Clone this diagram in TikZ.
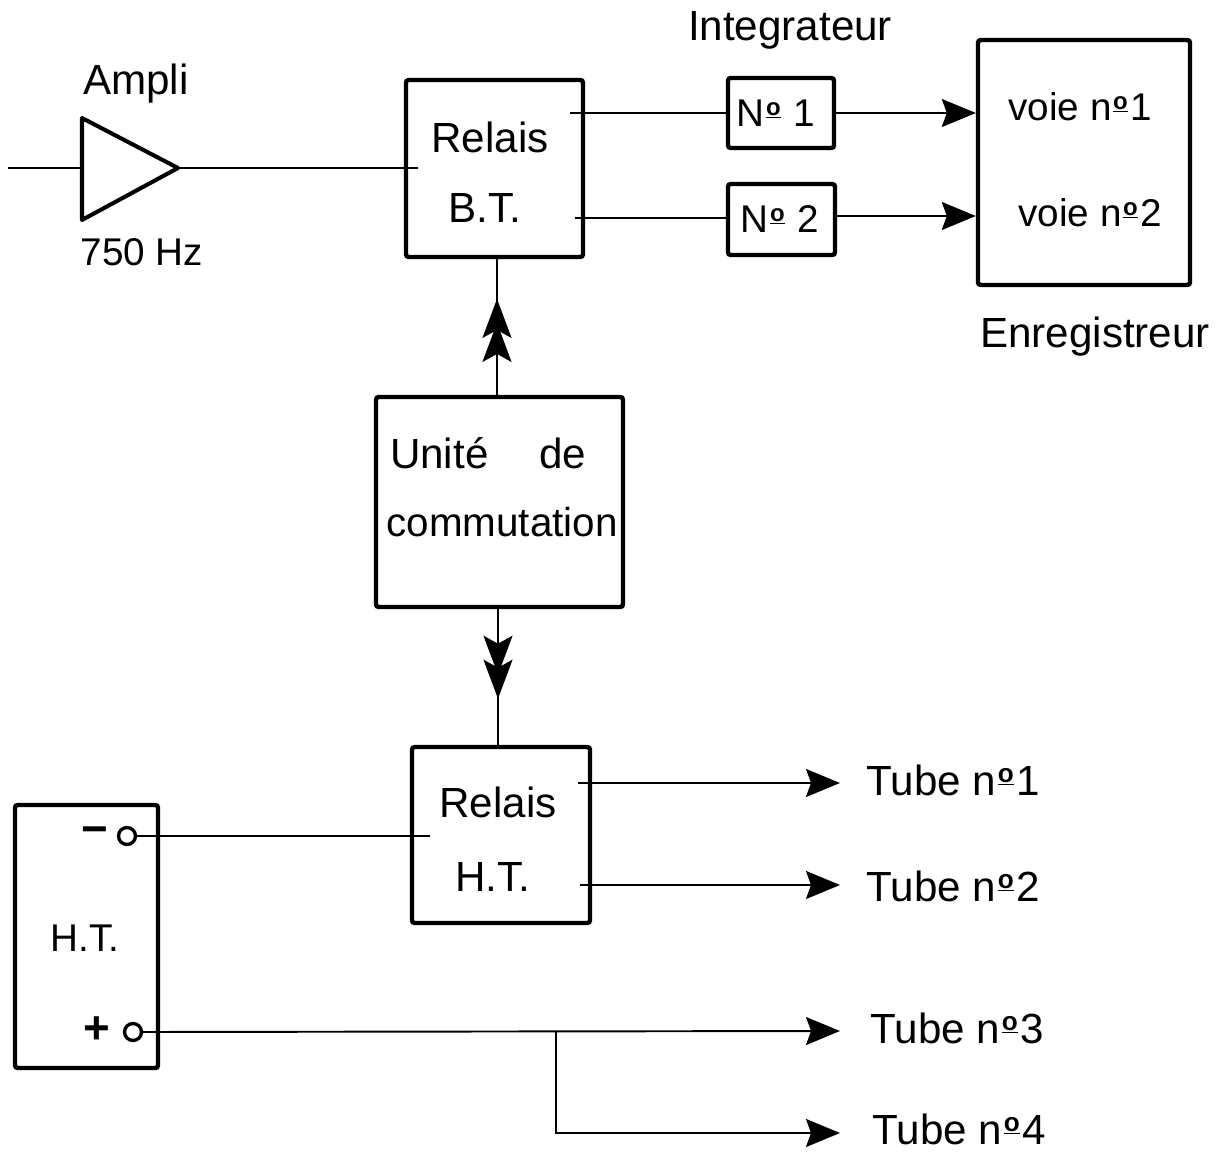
\documentclass[tikz,border=0pt]{standalone}
\usepackage{fontspec}
\usepackage{graphicx}
\setmainfont{Liberation Sans}
\usetikzlibrary{arrows.meta,decorations.markings,calc}
\newcommand\nro{\kern0.04em\raisebox{0.55ex}{\scalebox{0.62}{\underline{\textbf{o}}}}\kern0.06em}
\begin{document}
\begin{tikzpicture}[x=0.02cm,y=-0.02cm,
  box/.style={draw, line width=2.5pt, rounded corners=1.5pt, inner sep=0pt},
  wire/.style={line width=1.1pt},
  lbl/.style={inner sep=0pt, font=\fontsize{24}{28}\selectfont},
  slbl/.style={inner sep=0pt, font=\fontsize{22}{26}\selectfont},
  hd/.style={-{Stealth[length=0.68cm,width=0.56cm,inset=0.1cm]}},
  term/.style={circle, draw, line width=1.9pt, minimum size=0.34cm, inner sep=0pt},
  dbl/.style={postaction={decorate}, decoration={markings,
     mark=at position #1 with {\arrow{Stealth[length=0.78cm,width=0.58cm,inset=0.16cm,sep=-0.3cm]Stealth[length=0.78cm,width=0.58cm,inset=0.16cm]}}}},
]
\useasboundingbox (0,0) rectangle (1218,1152);
\fill[white] (0,0) rectangle (1218,1152);

% Ampli
\coordinate (in) at (8,168);
\coordinate (ampin) at (82,168);
\coordinate (ampout) at (178,168);
\draw[line width=2.3pt, line join=round] (82,118) -- (ampout) -- (82,220) -- cycle;
\node[lbl] (amplbl) at (136,84) {Ampli};
\node[slbl] (hzlbl) at (142,252) {750 Hz};

% boxes
\node[box, minimum width=3.54cm, minimum height=3.54cm] (rbt) at (494.5,168.5) {};
\node[box, minimum width=2.12cm, minimum height=1.4cm] (n1) at (781,113) {};
\node[box, minimum width=2.14cm, minimum height=1.42cm] (n2) at (781.5,219.5) {};
\node[box, minimum width=4.24cm, minimum height=4.9cm] (enr) at (1084,162.5) {};
\node[box, minimum width=4.94cm, minimum height=4.2cm] (uni) at (499.5,502) {};
\node[box, minimum width=3.56cm, minimum height=3.52cm] (rht) at (501,835) {};
\node[box, minimum width=2.86cm, minimum height=5.26cm] (ht) at (86.5,936.5) {};

% texts
\node[lbl] (t1) at (490,137) {Relais};
\node[lbl] (t2) at (485,208) {B.T.};
\node[slbl] (t3) at (776,113) {N\nro\ 1};
\node[slbl] (t4) at (780,219.5) {N\nro\ 2};
\node[slbl] (t5) at (1080,107) {voie n\nro 1};
\node[slbl] (t6) at (1090,213) {voie n\nro 2};
\node[lbl] (t7) at (790,30) {Integrateur};
\node[lbl] (t8) at (1095,337) {Enregistreur};
\node[lbl] (t9) at (488,453) {Unité\hspace{1.2em}de};
\node[font=\fontsize{23}{26}\selectfont, inner sep=0pt] (t10) at (502,522) {commutation};
\node[lbl] (t11) at (498,802) {Relais};
\node[lbl] (t12) at (493,877) {H.T.};
\node[slbl] (t13) at (85,938) {H.T.};
\node[lbl, font=\fontsize{26}{28}\selectfont\bfseries] (minus) at (95,836) {−};
\node[lbl, font=\fontsize{26}{28}\selectfont\bfseries] (plus) at (97,1030) {+};
\node[term] (cm) at (127,836) {};
\node[term] (cp) at (133,1032) {};
\node[lbl, anchor=west] (tb1) at (866,780) {Tube n\nro 1};
\node[lbl, anchor=west] (tb2) at (866,886) {Tube n\nro 2};
\node[lbl, anchor=west] (tb3) at (870,1028) {Tube n\nro 3};
\node[lbl, anchor=west] (tb4) at (872,1129) {Tube n\nro 4};

% coordinates
\coordinate (rbtin) at (418,168);
\coordinate (rbto1) at (570,113);
\coordinate (rbto2) at (575,218);
\coordinate (rhtin) at (430,836);
\coordinate (rhto1) at (578,783);
\coordinate (rhto2) at (580,885);
\coordinate (a1) at (840,783);
\coordinate (a2) at (840,885);
\coordinate (a3) at (840,1031);
\coordinate (br) at (556,1031);
\coordinate (brd) at (556,1133);
\coordinate (a4) at (840,1133);

% connectors
\draw[wire] (in) -- (ampin);
\draw[wire] (ampout) -- (rbtin);
\draw[wire] (rbto1) -- (n1.west);
\draw[wire] (rbto2) -- (n2.west |- rbto2);
\draw[wire, hd] (n1.east) -- (enr.west |- n1.east);
\draw[wire, hd] (n2.east |- 0,216) -- (enr.west |- 0,216);
\draw[wire, dbl=0.707] (uni.north -| 497,0) -- (rbt.south -| 497,0);
\draw[wire, dbl=0.66] (uni.south -| 498,0) -- (rht.north -| 498,0);
\draw[wire] (cm.east) -- (rhtin);
\draw[wire, hd] (rhto1) -- (a1);
\draw[wire, hd] (rhto2) -- (a2);
\draw[wire, hd] (cp.east) -- (a3);
\draw[wire, hd] (br) -- (brd) -- (a4);
\end{tikzpicture}
\end{document}
